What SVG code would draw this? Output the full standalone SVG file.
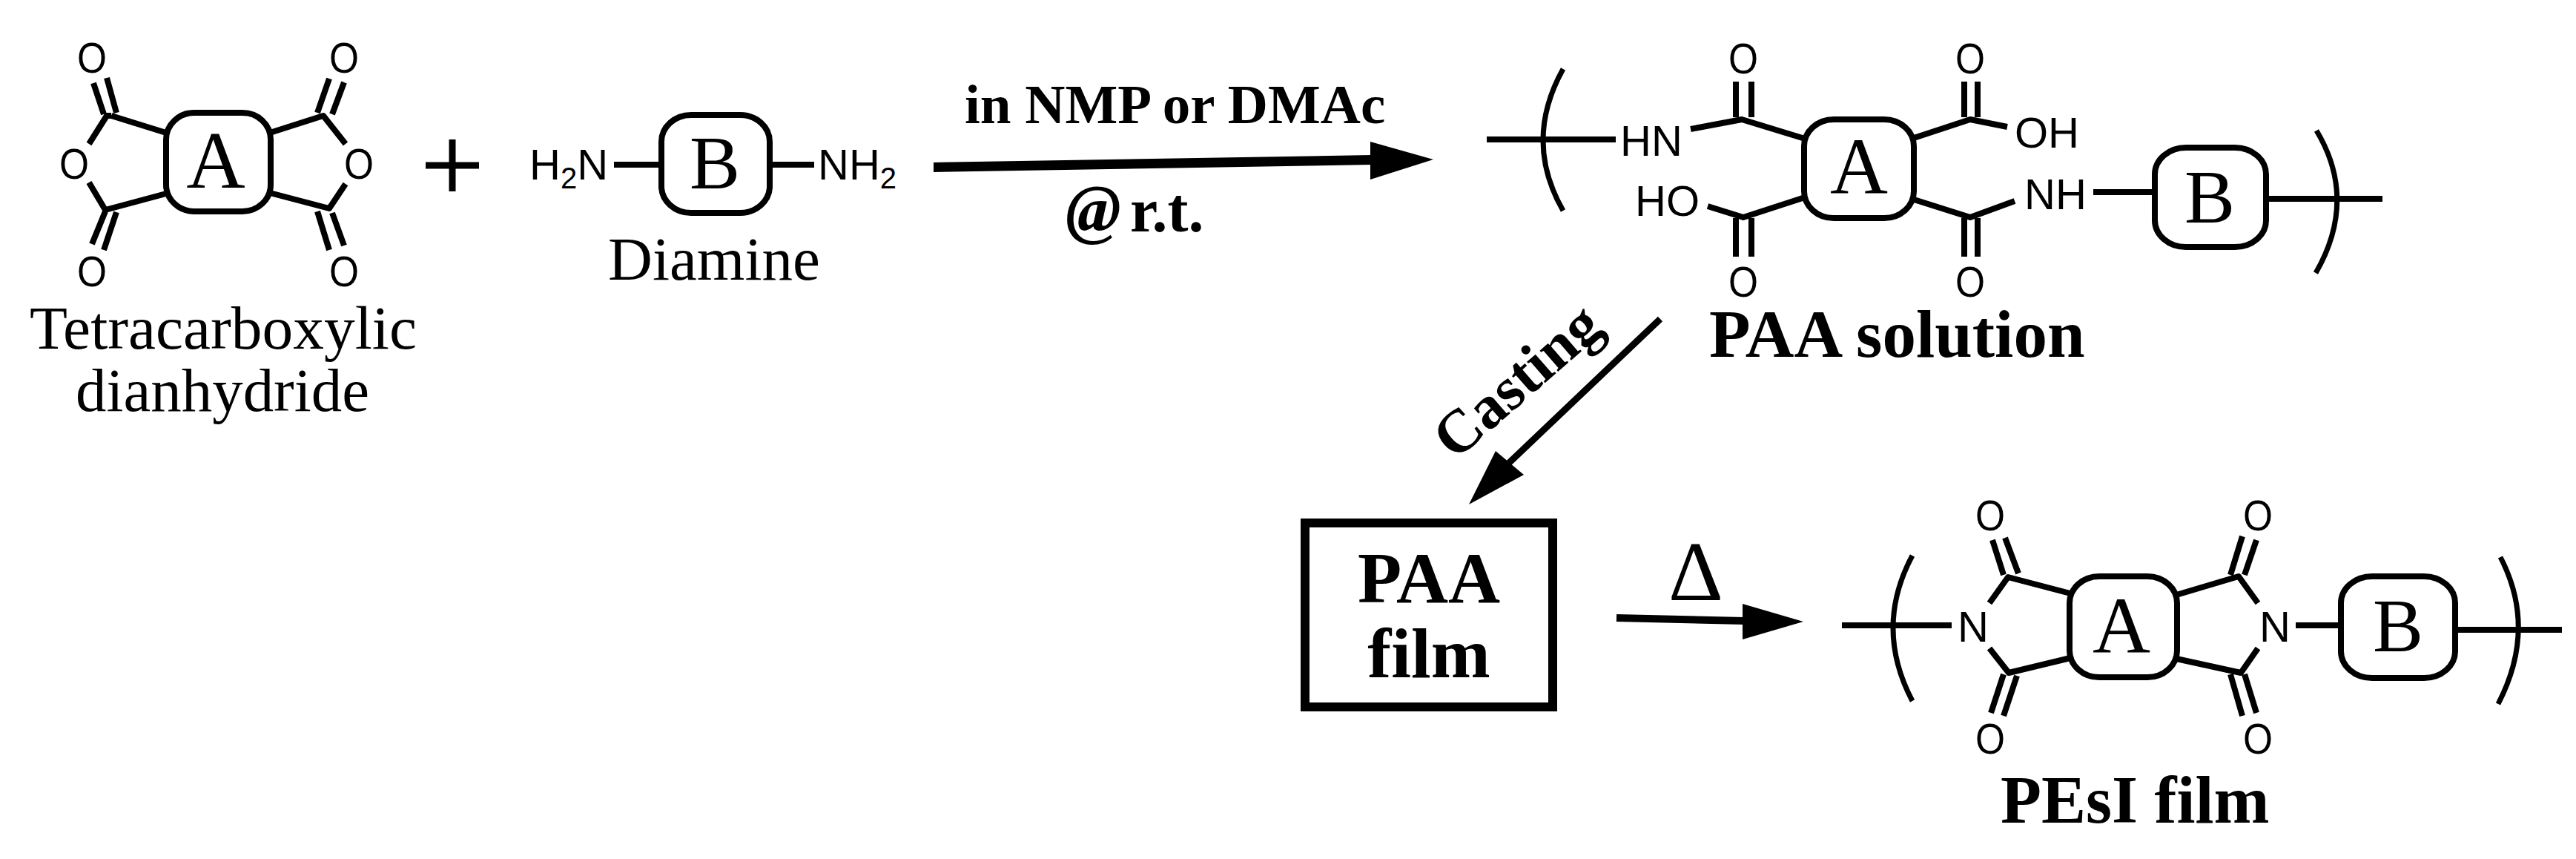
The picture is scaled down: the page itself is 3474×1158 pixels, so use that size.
<svg xmlns="http://www.w3.org/2000/svg" width="3474" height="1158" viewBox="0 0 3474 1158">
<style>
.b{fill:none;stroke:#000;stroke-width:8;stroke-linecap:butt;stroke-linejoin:round}
.h{fill:none;stroke:#000;stroke-width:7}
.box{fill:#fff;stroke:#000;stroke-width:8}
.s{font-family:"Liberation Sans",Arial,sans-serif;font-size:58px;fill:#000}
.sub{font-size:40px}
.o{font-family:"Liberation Sans",Arial,sans-serif;font-size:58px;fill:#000;text-anchor:middle}
.r{font-family:"Liberation Serif","Times New Roman",serif;fill:#000}
.c{text-anchor:middle}
.bd{font-weight:bold}
.arrow{fill:none;stroke:#000}
.head{fill:#000}
</style>
<rect width="3474" height="1158" fill="#fff"/>
<g id="dianhydride">
<path class="b" d="M126,112L140,154M144,105L157,152M150,156L144,156L120,194M150,156L224,179M120,246L142,283L224,261M142,285L124,329M157,286L140,337"/>
<path class="b" d="M428,152L444,106M448,154L464,111M364,179L436,156L466,194M466,248L444,281L364,260M428,285L444,337M448,287L464,331"/>
<rect class="box" x="224" y="152" width="141" height="133" rx="38" ry="36"/>
<text class="r c" x="291" y="253" font-size="110">A</text>
<text class="o" x="124" y="98" textLength="40" lengthAdjust="spacingAndGlyphs">O</text>
<text class="o" x="464" y="98" textLength="40" lengthAdjust="spacingAndGlyphs">O</text>
<text class="o" x="100" y="241" textLength="40" lengthAdjust="spacingAndGlyphs">O</text>
<text class="o" x="484" y="241" textLength="40" lengthAdjust="spacingAndGlyphs">O</text>
<text class="o" x="124" y="386" textLength="40" lengthAdjust="spacingAndGlyphs">O</text>
<text class="o" x="464" y="386" textLength="40" lengthAdjust="spacingAndGlyphs">O</text>
<text class="r" x="40" y="470" font-size="82" textLength="522" lengthAdjust="spacingAndGlyphs">Tetracarboxylic</text>
<text class="r" x="102" y="554" font-size="82" textLength="396" lengthAdjust="spacingAndGlyphs">dianhydride</text>
</g>
<g id="plus"><path d="M574,223H646M610,188V258" fill="none" stroke="#000" stroke-width="9"/></g>
<g id="diamine">
<path class="b" d="M828,222H892M1040,222H1098"/>
<rect class="box" x="892" y="155" width="146" height="132" rx="40" ry="36"/>
<text class="r c" x="964" y="254" font-size="102">B</text>
<text class="s" x="714" y="242">H<tspan class="sub" dy="12">2</tspan><tspan dy="-12">N</tspan></text>
<text class="s" x="1103" y="242">NH<tspan class="sub" dy="12">2</tspan></text>
<text class="r" x="820" y="377" font-size="83">Diamine</text>
</g>
<g id="paa-solution">
<path class="h" d="M2108,93Q2054,190 2108,284M3124,176Q3180,269 3123,368"/>
<path class="b" d="M2005,188H2179M2280,174L2349,161L2434,187M2341,110V158M2362,110V158M2578,187L2657,161L2707,171M2649,110V158M2667,110V158M2303,278L2351,293L2434,266M2341,294V346M2362,294V346M2578,268L2657,293L2717,271M2649,294V346M2667,294V346M2823,259H2905M3056,268H3213"/>
<rect class="box" x="2433" y="161" width="148" height="133" rx="40" ry="36"/>
<rect class="box" x="2906" y="199" width="150" height="134" rx="42" ry="36"/>
<text class="r c" x="2507" y="261" font-size="108">A</text>
<text class="r c" x="2980" y="300" font-size="102">B</text>
<text class="o" x="2351" y="99" textLength="40" lengthAdjust="spacingAndGlyphs">O</text>
<text class="o" x="2657" y="99" textLength="40" lengthAdjust="spacingAndGlyphs">O</text>
<text class="o" x="2351" y="400" textLength="40" lengthAdjust="spacingAndGlyphs">O</text>
<text class="o" x="2657" y="400" textLength="40" lengthAdjust="spacingAndGlyphs">O</text>
<text class="s" x="2185" y="210">HN</text>
<text class="s" x="2717" y="199">OH</text>
<text class="s" x="2205" y="291">HO</text>
<text class="s" x="2730" y="282">NH</text>
<text class="r bd" x="2305" y="481" font-size="91">PAA solution</text>
</g>
<g id="paa-film">
<rect x="1760" y="705" width="334" height="248" fill="#fff" stroke="#000" stroke-width="12"/>
<text class="r bd c" x="1927" y="812" font-size="97">PAA</text>
<text class="r bd c" x="1927" y="913" font-size="96">film</text>
</g>
<g id="pesi-film">
<path class="h" d="M2579,749Q2527,846 2579,945M3372,751Q3422,847 3369,949"/>
<path class="b" d="M2484,843H2632M2683,813L2708,778L2792,800M2687,728L2702,775M2704,725L2722,773M2683,874L2709,907L2792,887M2702,909L2685,961M2720,911L2702,965M2935,802L3019,777L3045,813M3008,775L3024,723M3027,775L3043,728M3045,874L3022,907L2935,888M3008,909L3024,965M3027,909L3043,961M3096,843H3156M3311,849H3455"/>
<rect class="box" x="2791" y="777" width="145" height="136" rx="40" ry="36"/>
<rect class="box" x="3157" y="777" width="154" height="137" rx="42" ry="36"/>
<text class="r c" x="2861" y="880" font-size="108">A</text>
<text class="r c" x="3234" y="878" font-size="102">B</text>
<text class="o" x="2684" y="715" textLength="40" lengthAdjust="spacingAndGlyphs">O</text>
<text class="o" x="3045" y="715" textLength="40" lengthAdjust="spacingAndGlyphs">O</text>
<text class="o" x="2684" y="1016" textLength="40" lengthAdjust="spacingAndGlyphs">O</text>
<text class="o" x="3045" y="1016" textLength="40" lengthAdjust="spacingAndGlyphs">O</text>
<text class="s" x="2640" y="865">N</text>
<text class="s" x="3047" y="865">N</text>
<text class="r bd" x="2698" y="1109" font-size="90">PEsI film</text>
</g>
<g id="connectors">
<path class="head" d="M1259,219L1850,209V222L1259,232Z"/>
<path class="head" d="M1848,191L1933,215L1848,242Z"/>
<path class="arrow" stroke-width="9" d="M2239,430L2035,624"/>
<path class="head" d="M2017,608L2055,640L1981,680Z"/>
<path class="arrow" stroke-width="10" d="M2180,833L2352,837"/>
<path class="head" d="M2350,814L2432,838L2350,862Z"/>
</g>
<g id="labels">
<text class="r bd" x="1301" y="166" font-size="75">in NMP or DMAc</text>
<text class="r bd" x="1437" y="312" font-size="90" font-style="italic">@</text>
<text class="r bd" x="1524" y="312" font-size="84">r.t.</text>
<text class="r bd" x="0" y="0" font-size="82" transform="translate(1962,622) rotate(-41)">Casting</text>
<text class="r" x="2287" y="809" font-size="115" text-anchor="middle">Δ</text>
</g>
</svg>
